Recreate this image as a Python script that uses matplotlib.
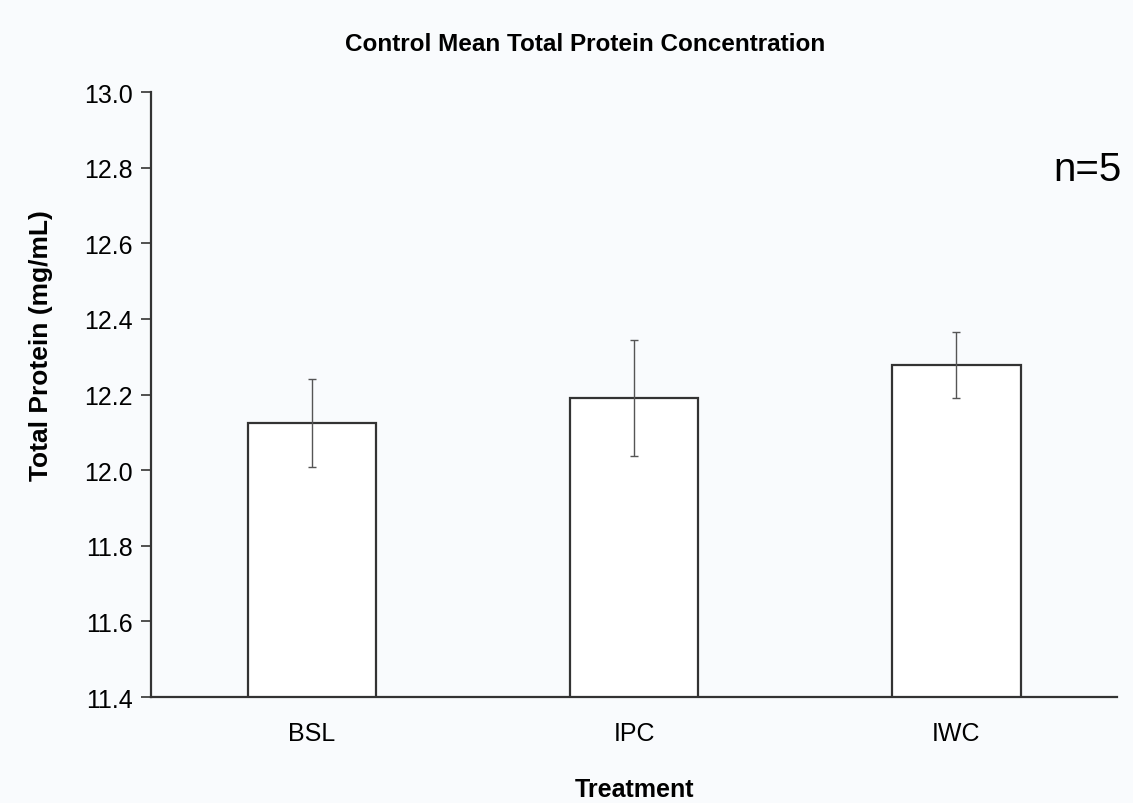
import matplotlib
matplotlib.use('Agg')
import matplotlib.pyplot as plt
import numpy as np

# Daten
treatments = ['BSL', 'IPC', 'IWC']
means = [12.124, 12.191, 12.278]
errs = [0.116, 0.153, 0.088]
y_ticks = [11.4, 11.6, 11.8, 12.0, 12.2, 12.4, 12.6, 12.8, 13.0]

plt.rcParams['font.family'] = ['Liberation Sans', 'DejaVu Sans']

bg = '#f9fbfd'
fig = plt.figure(figsize=(11.33, 8.04), dpi=100, facecolor=bg)
ax = fig.add_axes([0.1333, 0.1318, 0.8527, 0.7525], facecolor=bg)

x = np.arange(len(treatments))
ax.bar(x, means, width=0.4, bottom=0, color='white', edgecolor='#333333', linewidth=1.6)
ax.errorbar(x, means, yerr=errs, fmt='none', ecolor='#555555', elinewidth=1.0,
            capsize=3, capthick=1.0)

ax.set_xlim(-0.5, 2.5)
ax.set_ylim(11.4, 13.0)
ax.set_yticks(y_ticks)
ax.set_yticklabels([f'{v:.1f}' for v in y_ticks], fontsize=18)
ax.set_xticks(x)
ax.set_xticklabels(treatments, fontsize=18)
ax.tick_params(axis='x', length=0, pad=17)
ax.tick_params(axis='y', length=7, width=1.2, color='#333333', pad=6)

for s in ['top', 'right']:
    ax.spines[s].set_visible(False)
for s in ['left', 'bottom']:
    ax.spines[s].set_color('#333333')
    ax.spines[s].set_linewidth(1.6)

ax.set_xlabel('Treatment', fontsize=18, fontweight='bold', labelpad=23)
ax.set_ylabel('Total Protein (mg/mL)', fontsize=19, fontweight='bold')
# Achsentitel etwas nach oben, wie im Original
ax.yaxis.set_label_coords(-0.101, 0.582)

fig.text(0.516, 0.945, 'Control Mean Total Protein Concentration', fontsize=17.5,
         fontweight='bold', ha='center', va='center')
fig.text(0.99, 0.788, 'n=5', fontsize=29, ha='right', va='center')

fig.savefig('out.png', dpi=100, facecolor=bg)
